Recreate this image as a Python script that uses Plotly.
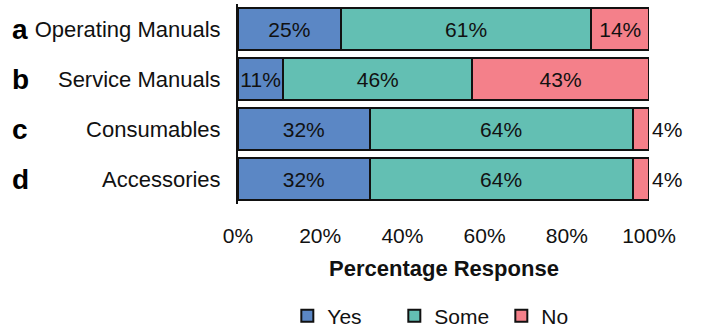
import plotly.graph_objects as go

categories = ["Operating Manuals", "Service Manuals", "Consumables", "Accessories"]
letters = ["a", "b", "c", "d"]
yes_vals = [25, 11, 32, 32]
some_vals = [61, 46, 64, 64]
no_vals = [14, 43, 4, 4]
x_ticks = [0, 20, 40, 60, 80, 100]
x_tick_labels = ["0%", "20%", "40%", "60%", "80%", "100%"]

FONT = "Liberation Sans, Arial, sans-serif"
TXT = "#111111"

fig = go.Figure()
series = [
    ("Yes", yes_vals, "#5b87c5", ["inside"] * 4),
    ("Some", some_vals, "#63bfb3", ["inside"] * 4),
    ("No", no_vals, "#f4808a", ["inside", "inside", "outside", "outside"]),
]
for name, vals, color, pos in series:
    fig.add_trace(go.Bar(
        name=name, y=categories, x=vals, orientation="h",
        marker=dict(color=color, line=dict(color="#111111", width=2)),
        text=[f"{v}%" for v in vals], textposition=pos,
        insidetextanchor="middle", cliponaxis=False,
        textfont=dict(family=FONT, size=21, color=TXT),
    ))

for i, letter in enumerate(letters):
    fig.add_annotation(
        x=-0.555, xref="paper", xanchor="left",
        y=categories[i], yref="y", yanchor="middle",
        text=f"<b>{letter}</b>", showarrow=False,
        font=dict(family=FONT, size=28, color="#000000"),
    )

fig.add_annotation(
    x=0.5, xref="paper", xanchor="center",
    y=-0.32, yref="paper", yanchor="middle",
    text="<b>Percentage Response</b>", showarrow=False,
    font=dict(family=FONT, size=22, color=TXT),
)

fig.update_layout(
    width=703, height=328,
    margin=dict(l=238, r=54, t=4, b=124, autoexpand=False),
    paper_bgcolor="white", plot_bgcolor="white",
    barmode="stack", bargap=0.16,
    uniformtext=dict(minsize=21, mode="show"),
    showlegend=True,
    legend=dict(orientation="h", x=0.12, xanchor="left", y=-0.56, yanchor="middle",
                font=dict(family=FONT, size=21, color=TXT),
                traceorder="normal", itemwidth=30,
                entrywidth=62, entrywidthmode="pixels"),
    font=dict(family=FONT, color=TXT),
)
fig.update_xaxes(
    range=[0, 100], tickvals=x_ticks, ticktext=x_tick_labels,
    showgrid=False, zeroline=False, showline=False,
    ticks="outside", ticklen=13, tickcolor="rgba(0,0,0,0)",
    tickfont=dict(family=FONT, size=21, color=TXT),
)
fig.update_yaxes(
    categoryorder="array", categoryarray=categories, autorange="reversed",
    showgrid=False, zeroline=False, showline=True, linecolor="#111111", linewidth=2,
    ticks="", ticklabelstandoff=11,
    tickfont=dict(family=FONT, size=22, color=TXT),
)

fig.write_html("out.html")
